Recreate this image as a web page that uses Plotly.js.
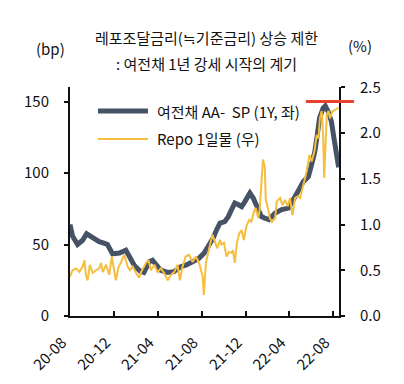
<!DOCTYPE html>
<html>
<head>
<meta charset="utf-8">
<script src="https://cdn.plot.ly/plotly-3.0.1.min.js"></script>
<style>html,body{margin:0;padding:0;background:#fff;}#chart{width:404px;height:384px;}</style>
</head>
<body>
<div id="chart"></div>
<script>
// 여전채 AA- 1Y spread (bp, left axis)
const spDates = ["2020-08-01","2020-08-08","2020-08-22","2020-09-05","2020-09-16","2020-10-03","2020-10-21","2020-11-03","2020-11-13","2020-11-27","2020-12-16","2021-01-03","2021-01-12","2021-01-26","2021-02-11","2021-02-22","2021-03-09","2021-03-18","2021-03-29","2021-04-10","2021-04-29","2021-05-16","2021-06-04","2021-06-18","2021-07-07","2021-07-25","2021-08-08","2021-08-19","2021-09-02","2021-09-11","2021-09-21","2021-10-04","2021-10-14","2021-10-23","2021-11-01","2021-11-10","2021-11-20","2021-11-29","2021-12-13","2021-12-22","2021-12-31","2022-01-07","2022-01-14","2022-01-23","2022-02-04","2022-02-21","2022-03-11","2022-03-30","2022-04-13","2022-04-27","2022-05-10","2022-05-24","2022-06-02","2022-06-11","2022-06-18","2022-06-24","2022-07-04","2022-07-10","2022-07-18","2022-07-27","2022-08-03","2022-08-12","2022-08-16"];
const spValues = [64,56,50,53,57.5,54.5,52,51,50,43.5,44,46,41.5,35.5,31.5,30.5,38,39,35.5,32,30.5,31,34.5,35.5,38,40.5,44,48.5,54.5,60,65,66,69.5,74.5,79,78,76.5,80,86,82.5,78,73,69.5,68.5,67.5,72,74.5,75.5,81,88,94,97.5,106,115,127,138.5,145.5,147,143,136,124.5,110,104];

// Repo 1일물 (%, right axis)
const repoDates = ["2020-08-01","2020-08-08","2020-08-18","2020-08-27","2020-09-05","2020-09-10","2020-09-14","2020-09-19","2020-09-25","2020-10-03","2020-10-12","2020-10-21","2020-10-26","2020-10-31","2020-11-09","2020-11-18","2020-11-25","2020-12-02","2020-12-06","2020-12-14","2020-12-20","2020-12-29","2021-01-08","2021-01-14","2021-01-22","2021-01-31","2021-02-09","2021-02-14","2021-02-28","2021-03-07","2021-03-13","2021-03-23","2021-04-01","2021-04-10","2021-04-19","2021-04-29","2021-05-08","2021-05-17","2021-05-26","2021-06-02","2021-06-09","2021-06-18","2021-06-27","2021-07-07","2021-07-16","2021-07-25","2021-08-04","2021-08-07","2021-08-13","2021-08-19","2021-08-26","2021-08-31","2021-09-07","2021-09-13","2021-09-21","2021-09-25","2021-10-02","2021-10-09","2021-10-16","2021-10-23","2021-10-27","2021-11-01","2021-11-07","2021-11-13","2021-11-20","2021-11-26","2021-12-03","2021-12-11","2021-12-17","2021-12-24","2021-12-29","2022-01-05","2022-01-09","2022-01-14","2022-01-18","2022-01-23","2022-01-26","2022-02-01","2022-02-06","2022-02-12","2022-02-21","2022-02-25","2022-03-07","2022-03-13","2022-03-20","2022-03-28","2022-04-03","2022-04-10","2022-04-17","2022-04-25","2022-05-01","2022-05-10","2022-05-19","2022-05-27","2022-06-02","2022-06-10","2022-06-16","2022-06-21","2022-06-25","2022-06-30","2022-07-04","2022-07-07","2022-07-11","2022-07-14","2022-07-19","2022-07-23","2022-07-30","2022-08-06","2022-08-13","2022-08-16"];
const repoValues = [0.43,0.50,0.52,0.48,0.54,0.61,0.45,0.39,0.56,0.47,0.50,0.52,0.58,0.48,0.56,0.45,0.65,0.50,0.39,0.54,0.58,0.67,0.54,0.50,0.54,0.47,0.42,0.48,0.58,0.61,0.50,0.56,0.48,0.52,0.47,0.39,0.45,0.48,0.56,0.39,0.54,0.65,0.67,0.59,0.65,0.58,0.43,0.23,0.58,0.69,0.80,0.89,0.81,0.74,0.83,0.78,0.80,0.65,0.70,0.69,0.72,0.58,0.80,0.90,0.94,0.83,0.98,1.05,1.03,1.14,1.18,1.07,1.16,1.41,1.71,1.63,1.27,1.18,1.07,1.03,1.07,1.25,1.29,1.21,1.27,1.20,1.29,1.10,1.29,1.31,1.29,1.43,1.58,1.76,1.69,1.80,1.98,1.94,2.16,2.24,1.98,1.51,1.87,2.20,2.24,2.16,2.24,2.25,2.27,2.28];

const leftTicks = [0,50,100,150];
const rightTicks = [0,0.5,1.0,1.5,2.0,2.5];
const rightTickText = ["0.0","0.5","1.0","1.5","2.0","2.5"];
const capLevel = 150;

const titleLines = ["레포조달금리(≒기준금리) 상승 제한", ": 여전채 1년 강세 시작의 계기"];
const spName = "여전채 AA-  SP (1Y, 좌)";
const repoName = "Repo 1일물 (우)";

const FONT = "'Noto Sans CJK KR', 'Noto Sans', sans-serif";
const DARK = "#465266";
const YELLOW = "#f6be3e";

const traces = [
  {x: repoDates, y: repoValues, type: "scatter", mode: "lines", yaxis: "y2",
   line: {color: YELLOW, width: 2}, name: repoName, showlegend: false},
  {x: spDates, y: spValues, type: "scatter", mode: "lines", yaxis: "y",
   line: {color: DARK, width: 5}, name: spName, showlegend: false}
];

const layout = {
  width: 404, height: 384,
  margin: {l: 70, r: 65, t: 87, b: 68},
  paper_bgcolor: "#fff", plot_bgcolor: "#fff",
  font: {family: FONT, size: 15, color: "#111"},
  showlegend: false,
  xaxis: {
    type: "date", range: ["2020-08-01", "2022-08-17"],
    tick0: "2020-08-01", dtick: "M4", tickformat: "%y-%m", tickangle: -45,
    ticks: "inside", ticklen: 5, tickwidth: 2, tickcolor: "#111",
    ticklabelstandoff: 10, ticklabelshift: -8,
    showline: true, linewidth: 2, linecolor: "#111", showgrid: false, zeroline: false,
    tickfont: {size: 15, family: FONT, color: "#111"}
  },
  yaxis: {
    range: [0, 160.2], tickvals: leftTicks, ticktext: leftTicks.map(String),
    ticks: "outside", ticklen: 4, tickwidth: 2, tickcolor: "#111",
    ticklabelstandoff: 12,
    showline: true, linewidth: 2, linecolor: "#111", showgrid: false, zeroline: false
  },
  yaxis2: {
    overlaying: "y", side: "right", range: [0, 2.503],
    tickvals: rightTicks, ticktext: rightTickText,
    ticks: "outside", ticklen: 4, tickwidth: 2, tickcolor: "#111",
    ticklabelstandoff: 12,
    showline: true, linewidth: 2, linecolor: "#111", showgrid: false, zeroline: false
  },
  yaxis3: {
    overlaying: "y", side: "left", range: [0, 160.2], tickvals: leftTicks,
    showticklabels: false, ticks: "inside", ticklen: 4, tickwidth: 2, tickcolor: "#111",
    showline: false, showgrid: false, zeroline: false
  },
  yaxis4: {
    overlaying: "y", side: "right", range: [0, 2.503], tickvals: rightTicks,
    showticklabels: false, ticks: "inside", ticklen: 4, tickwidth: 2, tickcolor: "#111",
    showline: false, showgrid: false, zeroline: false
  },
  shapes: [
    {type: "line", xref: "paper", yref: "y", x0: 0.877, x1: 1.056, y0: capLevel, y1: capLevel,
     line: {color: "#e8412c", width: 3}},
    {type: "line", xref: "paper", yref: "paper", x0: 0.104, x1: 0.290, y0: 0.895, y1: 0.895,
     line: {color: DARK, width: 5}},
    {type: "line", xref: "paper", yref: "paper", x0: 0.104, x1: 0.290, y0: 0.773, y1: 0.773,
     line: {color: YELLOW, width: 2}}
  ],
  annotations: [
    {xref: "paper", yref: "paper", x: 0.316, y: 0.895, xanchor: "left", yanchor: "middle",
     text: spName, showarrow: false, font: {size: 15, family: FONT, color: "#111"}},
    {xref: "paper", yref: "paper", x: 0.316, y: 0.773, xanchor: "left", yanchor: "middle",
     text: repoName, showarrow: false, font: {size: 15, family: FONT, color: "#111"}},
    {xref: "paper", yref: "paper", x: 0.509, y: 1.0, yshift: 50, xanchor: "center", yanchor: "middle",
     text: titleLines[0], showarrow: false, font: {size: 15, family: FONT, color: "#111"}},
    {xref: "paper", yref: "paper", x: 0.509, y: 1.0, yshift: 24, xanchor: "center", yanchor: "middle",
     text: titleLines[1], showarrow: false, font: {size: 15, family: FONT, color: "#111"}},
    {xref: "paper", yref: "paper", x: -0.074, y: 1.0, yshift: 39, xanchor: "center", yanchor: "middle",
     text: "(bp)", showarrow: false, font: {size: 15, family: FONT, color: "#111"}},
    {xref: "paper", yref: "paper", x: 1.078, y: 1.0, yshift: 42, xanchor: "center", yanchor: "middle",
     text: "(%)", showarrow: false, font: {size: 15, family: FONT, color: "#111"}}
  ]
};

Plotly.newPlot("chart", traces, layout, {staticPlot: true, displayModeBar: false});
</script>
</body>
</html>
